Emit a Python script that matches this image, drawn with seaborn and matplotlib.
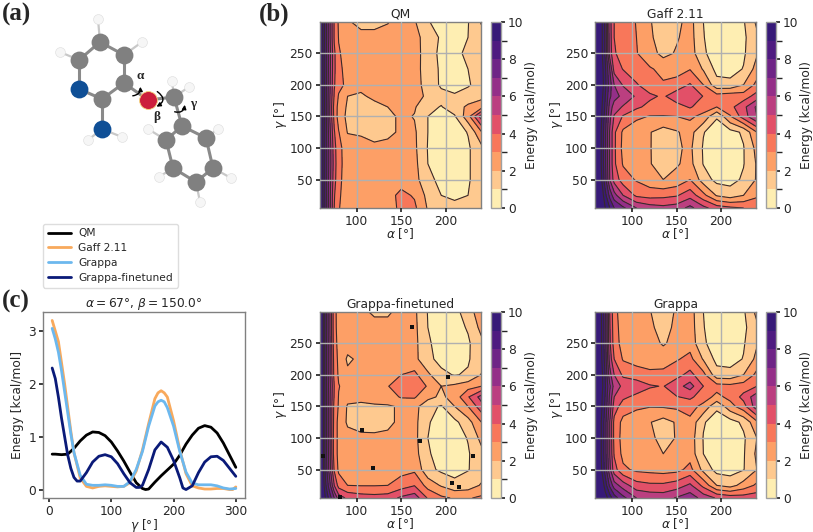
import numpy as np
import seaborn as sns
from matplotlib import pyplot as plt
from matplotlib.cm import ScalarMappable
from matplotlib.colors import BoundaryNorm, ListedColormap
from matplotlib.patches import FancyArrowPatch

W, H = 813, 532

# energy surfaces, rows follow gamma_nodes, columns follow alpha_nodes
alpha_nodes = [58, 65, 70, 75, 80, 90, 105, 120, 135, 150, 165, 180, 195, 210, 225, 240]
gamma_nodes = [5, 25, 50, 75, 100, 125, 150, 165, 182, 200, 225, 250, 275, 300]

qm_grid = [
    [12, 8.8, 6.3, 4.0, 3.05, 2.6, 2.5, 2.5, 2.7, 3.15, 3.2, 1.9, 1.3, 1.15, 1.4, 1.7],
    [12, 8.7, 6.3, 4.1, 3.1, 2.65, 2.5, 2.5, 2.65, 3.25, 2.9, 1.7, 1.0, 0.9, 1.0, 1.6],
    [12, 8.7, 6.4, 4.4, 3.2, 2.6, 2.45, 2.45, 2.5, 2.6, 2.4, 1.2, 0.8, 0.7, 0.9, 1.5],
    [12, 8.7, 6.5, 4.5, 3.25, 2.6, 2.45, 2.4, 2.4, 2.4, 2.3, 1.0, 0.7, 0.65, 0.9, 1.5],
    [12, 8.7, 6.5, 4.4, 3.25, 2.55, 2.3, 2.15, 2.2, 2.35, 2.2, 0.95, 0.6, 0.6, 0.85, 1.75],
    [12, 8.7, 6.3, 4.1, 3.05, 1.95, 1.9, 1.75, 1.85, 2.1, 2.15, 1.0, 0.6, 0.55, 1.05, 2.9],
    [12, 8.6, 6.0, 3.7, 2.6, 1.75, 1.65, 1.6, 1.7, 2.2, 1.95, 1.0, 0.7, 0.9, 2.6, 5.5],
    [12, 8.6, 6.0, 3.6, 2.7, 1.85, 1.7, 1.8, 2.0, 2.3, 2.1, 1.25, 0.95, 1.5, 2.2, 2.6],
    [12, 8.6, 6.1, 3.9, 2.9, 2.0, 1.9, 2.15, 2.4, 2.5, 2.3, 1.85, 1.3, 1.1, 1.4, 1.7],
    [12, 8.6, 6.2, 4.1, 3.3, 2.75, 2.2, 2.4, 2.5, 2.55, 2.4, 1.6, 0.85, 0.7, 0.9, 1.4],
    [12, 8.7, 6.3, 4.2, 3.2, 2.7, 2.55, 2.5, 2.5, 2.5, 2.4, 1.5, 0.85, 0.7, 1.0, 1.5],
    [12, 8.7, 6.4, 4.2, 3.1, 2.6, 2.5, 2.45, 2.45, 2.5, 2.5, 1.4, 0.8, 0.75, 1.2, 1.45],
    [12, 8.6, 6.2, 3.9, 2.95, 2.3, 2.15, 2.15, 2.3, 2.6, 2.45, 1.4, 0.9, 0.75, 1.0, 1.6],
    [12, 8.6, 6.2, 3.9, 2.85, 2.05, 1.85, 1.85, 1.95, 2.3, 2.1, 1.05, 0.7, 0.6, 0.95, 2.1],
]

gaff_grid = [
    [15, 11.5, 10, 9, 8, 7.2, 6, 5.5, 5.3, 5.5, 6.3, 5.3, 4.5, 4.2, 4.0, 3.9],
    [15, 11, 9.3, 7.7, 6.4, 5, 3.8, 3.6, 3.7, 3.9, 4.6, 3.3, 1.9, 1.5, 2, 2.8],
    [15, 10.4, 8.4, 6, 4.6, 3.5, 2.9, 2.4, 2.0, 2.3, 3.0, 1.5, 0.7, 0.65, 1.15, 2.1],
    [15, 10.2, 8.2, 5.9, 4.2, 2.9, 2.5, 2.05, 1.6, 1.9, 2.3, 0.95, 0.45, 0.45, 0.95, 2.1],
    [15, 10.2, 8.2, 5.9, 4.2, 2.7, 2.4, 2.05, 1.5, 1.85, 2.2, 0.9, 0.4, 0.4, 0.95, 2.3],
    [15, 10.2, 8.2, 5.9, 4.2, 2.8, 2.4, 2.05, 1.55, 1.9, 2.4, 1.05, 0.5, 0.65, 1.15, 3],
    [15, 10.4, 8.5, 6.3, 4.9, 3.9, 3.2, 2.95, 2.95, 3.0, 3.2, 2.7, 1.1, 2.9, 4.5, 6],
    [15, 10.5, 8.8, 6.6, 5.5, 4.9, 4.2, 3.7, 3.5, 3.6, 4.1, 3.5, 3.0, 3.7, 4.7, 6.2],
    [15, 10.7, 9, 7.2, 6.4, 5.7, 4.85, 4.2, 3.85, 4.6, 4.9, 3.95, 3.4, 3.6, 3.5, 4.4],
    [15, 11, 9.3, 7.5, 6, 4.9, 4.1, 3.4, 3.1, 3.4, 4.1, 3.0, 1.35, 1.3, 2.0, 3.3],
    [15, 10.8, 9.2, 7, 4.6, 3.95, 3.4, 3.1, 2.75, 2.6, 2.95, 1.9, 0.7, 0.6, 1.05, 2.4],
    [15, 10.6, 8.8, 5.6, 4.1, 3.6, 3.05, 2.4, 1.7, 2.1, 2.5, 1.15, 0.5, 0.45, 0.85, 1.9],
    [15, 10.6, 8.8, 5.5, 4.0, 3.6, 3.0, 2.2, 1.4, 1.9, 2.4, 1.05, 0.4, 0.35, 0.8, 1.8],
    [15, 10.6, 8.7, 5.4, 4.0, 3.55, 2.95, 2.1, 1.3, 1.75, 2.35, 1.0, 0.3, 0.3, 0.9, 2.2],
]

finetuned_grid = [
    [13, 10, 8.5, 7, 5.5, 4.8, 4.5, 4.4, 4.5, 5.2, 5.6, 3.9, 3.2, 2.9, 2.9, 3.2],
    [13, 9.3, 7.3, 5, 3.6, 3.0, 2.95, 2.95, 3.0, 3.5, 3.95, 2.6, 1.9, 1.35, 1.5, 2.1],
    [13, 8.8, 6.4, 3.9, 2.8, 2.45, 2.4, 2.4, 2.4, 2.65, 2.8, 1.3, 0.8, 0.6, 0.95, 1.5],
    [13, 8.7, 6.3, 3.5, 2.75, 2.4, 2.3, 2.3, 2.3, 2.35, 2.4, 1.1, 0.65, 0.55, 0.9, 1.7],
    [13, 8.7, 6.2, 3.5, 2.75, 2.35, 2.2, 2.15, 2.2, 2.3, 2.3, 1.0, 0.6, 0.6, 1.05, 2.3],
    [13, 8.7, 6.2, 3.6, 2.7, 1.85, 1.65, 1.7, 1.8, 2.2, 2.3, 1.1, 0.55, 0.75, 1.6, 3.0],
    [13, 8.7, 6.2, 3.7, 2.9, 1.9, 1.85, 1.9, 1.9, 2.1, 2.35, 1.3, 0.9, 2.0, 3.0, 4.6],
    [13, 8.7, 6.2, 3.9, 2.95, 2.3, 2.2, 2.3, 2.5, 3.1, 3.1, 2.3, 1.8, 2.4, 3.9, 5.4],
    [13, 8.7, 6.3, 4.0, 3.05, 2.6, 2.4, 2.5, 2.95, 3.6, 3.7, 2.9, 2.0, 2.2, 2.6, 3.0],
    [13, 8.6, 6.2, 3.7, 2.85, 2.2, 2.3, 2.4, 2.6, 3.0, 3.25, 2.2, 1.2, 0.95, 1.1, 2.05],
    [13, 8.6, 6.2, 3.6, 2.75, 1.85, 2.2, 2.3, 2.4, 2.45, 2.3, 1.2, 0.75, 0.65, 0.9, 1.6],
    [13, 8.6, 6.2, 3.4, 2.7, 2.4, 2.35, 2.35, 2.4, 2.45, 2.3, 1.1, 0.7, 0.6, 0.85, 1.75],
    [13, 8.6, 6.1, 3.3, 2.65, 2.4, 2.3, 2.3, 2.3, 2.4, 2.25, 1.0, 0.55, 0.6, 1.1, 2.3],
    [13, 8.6, 6.1, 3.3, 2.6, 2.35, 2.2, 1.85, 1.85, 2.3, 2.2, 0.95, 0.5, 0.65, 1.55, 2.6],
]

grappa_grid = [
    [15, 12, 10.5, 9.5, 8.5, 7.3, 6.0, 5.7, 5.6, 6.1, 6.6, 5.6, 4.9, 4.6, 4.5, 4.6],
    [15, 11.2, 9.5, 7.8, 6.5, 5.5, 4.4, 4.2, 4.2, 4.5, 5.2, 3.7, 2.0, 1.6, 2.4, 3.2],
    [15, 10.3, 8.6, 6.3, 4.4, 3.2, 2.8, 2.7, 2.6, 2.7, 3.3, 1.7, 0.65, 0.6, 0.95, 2.0],
    [15, 10.2, 8.4, 6, 3.9, 2.7, 2.5, 2.35, 2.0, 2.3, 2.6, 1.0, 0.45, 0.45, 0.9, 2.2],
    [15, 10.2, 8.4, 6, 3.7, 2.6, 2.45, 2.2, 1.7, 2.05, 2.55, 0.95, 0.4, 0.4, 0.85, 2.0],
    [15, 10.2, 8.4, 6, 3.7, 2.7, 2.5, 2.05, 1.6, 2.1, 2.75, 1.1, 0.5, 0.6, 1.2, 2.8],
    [15, 10.4, 8.8, 6.6, 4.5, 3.5, 3.15, 3.05, 3.1, 3.2, 3.4, 2.7, 1.2, 2.6, 3.6, 5.6],
    [15, 10.5, 8.9, 6.8, 5, 4.2, 3.75, 3.5, 3.4, 3.95, 4.2, 3.5, 2.7, 3.3, 4.3, 5.6],
    [15, 10.7, 9.1, 7.2, 5.6, 4.75, 4.6, 4.1, 3.95, 4.6, 5.4, 4.0, 3.4, 3.3, 3.5, 4.0],
    [15, 10.7, 8.9, 6.4, 5, 3.8, 3.5, 3.25, 3.3, 3.7, 4.3, 3.3, 1.4, 1.35, 2.0, 3.3],
    [15, 10.4, 8.6, 5.6, 4.0, 2.9, 2.6, 2.5, 2.5, 2.9, 3.3, 1.9, 0.7, 0.6, 1.05, 2.3],
    [15, 10.3, 8.4, 5.2, 3.5, 2.6, 2.45, 2.35, 1.9, 2.3, 2.6, 1.15, 0.5, 0.45, 0.9, 1.9],
    [15, 10.3, 8.4, 5.1, 3.4, 2.55, 2.4, 2.2, 1.6, 2.25, 2.5, 1.05, 0.4, 0.35, 0.75, 1.8],
    [15, 10.3, 8.3, 5.0, 3.3, 2.5, 2.35, 2.05, 1.4, 2.15, 2.45, 1.0, 0.3, 0.3, 0.85, 2.3],
]

# odd grid points that show as black dots in the finetuned surface
dots_alpha = [162.5, 203, 106, 171, 62.5, 118, 231, 207, 215, 82]
dots_gamma = [275, 197, 113, 95, 71.6, 53, 71.6, 29.5, 23, 6]

# scan at alpha=67, beta=150
qm_x = [5, 10, 20, 30, 40, 50, 60, 70, 80, 90, 100, 110, 120, 130, 140, 150, 155, 160, 170, 180,
        190, 200, 210, 220, 230, 240, 250, 260, 270, 280, 290, 300]
qm_y = [0.67, 0.67, 0.66, 0.67, 0.78, 0.92, 1.03, 1.09, 1.08, 1.02, 0.9, 0.73, 0.54, 0.33, 0.13, 0.02, 0, 0.01, 0.14, 0.26,
        0.37, 0.48, 0.65, 0.86, 1.03, 1.16, 1.21, 1.18, 1.07, 0.88, 0.65, 0.42]
gaff_x = [5, 10, 15, 20, 25, 30, 35, 40, 50, 60, 70, 80, 90, 100, 110, 120, 130, 140, 150, 160, 170, 175, 180,
          185, 190, 200, 210, 220, 230, 240, 250, 260, 270, 280, 290, 295, 300]
gaff_y = [3.2, 3.0, 2.8, 2.4, 2.0, 1.55, 1.1, 0.7, 0.22, 0.06, 0.03, 0.06, 0.07, 0.06, 0.05, 0.06, 0.13, 0.35, 0.75, 1.25, 1.72, 1.83, 1.87,
          1.83, 1.75, 1.3, 0.75, 0.3, 0.07, 0.03, 0.01, 0.01, 0.02, 0.02, 0, 0, 0.05]
grappa_x = [5, 10, 15, 20, 25, 30, 35, 40, 50, 60, 70, 80, 90, 100, 110, 120, 130, 140, 150, 160, 170, 175, 180,
            185, 190, 200, 210, 220, 230, 240, 250, 260, 270, 280, 290, 300]
grappa_y = [3.05, 2.85, 2.6, 2.25, 1.85, 1.45, 1.05, 0.7, 0.27, 0.1, 0.08, 0.08, 0.09, 0.08, 0.06, 0.06, 0.15, 0.38, 0.72, 1.2, 1.58, 1.66, 1.69,
            1.66, 1.55, 1.2, 0.72, 0.33, 0.12, 0.09, 0.09, 0.09, 0.07, 0.03, 0.01, 0.02]
finetuned_x = [5, 10, 15, 20, 25, 30, 35, 40, 45, 50, 60, 70, 80, 90, 100, 110, 120, 130, 140, 145, 150, 160, 170, 180,
               190, 200, 210, 215, 220, 230, 240, 250, 260, 270, 280, 290, 300]
finetuned_y = [2.3, 2.1, 1.75, 1.35, 1.0, 0.65, 0.4, 0.23, 0.16, 0.16, 0.32, 0.52, 0.63, 0.66, 0.62, 0.49, 0.3, 0.13, 0.04, 0.04, 0.08, 0.38, 0.75, 0.9,
               0.8, 0.55, 0.22, 0.03, 0, 0.07, 0.32, 0.52, 0.62, 0.63, 0.55, 0.4, 0.25]

# molecule sketch in panel (a), picture pixels
carbon_x = [100, 79, 124, 124, 102, 174, 182, 166, 206, 173, 213, 196]
carbon_y = [42, 60, 55, 83, 99, 97, 126, 140, 138, 168, 168, 182]
nitrogen_x = [79, 102]
nitrogen_y = [89, 129]
oxygen_x = [148]
oxygen_y = [100]
hydrogen_x = [98, 60, 142, 172, 189, 88, 122, 148, 218, 159, 231, 200]
hydrogen_y = [19, 52, 42, 81, 87, 140, 137, 129, 129, 177, 178, 202]
heavy_bonds = [(100, 42, 79, 60), (79, 60, 79, 89), (79, 89, 102, 99), (102, 99, 124, 83), (124, 83, 124, 55),
               (124, 55, 100, 42), (102, 99, 102, 129), (124, 83, 148, 100), (148, 100, 174, 97), (174, 97, 182, 126),
               (182, 126, 166, 140), (166, 140, 173, 168), (173, 168, 196, 182), (196, 182, 213, 168),
               (213, 168, 206, 138), (206, 138, 182, 126)]
hydrogen_bonds = [(100, 42, 98, 19), (79, 60, 60, 52), (124, 55, 142, 42), (174, 97, 172, 81), (174, 97, 189, 87),
                  (102, 129, 88, 140), (102, 129, 122, 137), (166, 140, 148, 129), (206, 138, 218, 129),
                  (173, 168, 159, 177), (213, 168, 231, 178), (196, 182, 200, 202)]

band_colors = ['#feeeb2', '#fec98f', '#fd9f66', '#f8775a', '#e25068',
               '#bb3f80', '#942f88', '#6e2486', '#4e1b80', '#371a78']
levels = list(range(11))


def px_axes(fig, left, top, right, bottom):
    return fig.add_axes([left / W, 1 - bottom / H, (right - left) / W, (bottom - top) / H])


def plot_surface(fig, grid, title, box, cbar_box):
    ax = px_axes(fig, *box)
    ax.contourf(alpha_nodes, gamma_nodes, grid, levels=levels, cmap=cmap, norm=norm, extend='max', zorder=1)
    ax.contour(alpha_nodes, gamma_nodes, grid, levels=levels, colors='#3a2a2a', linewidths=0.8, zorder=2)
    ax.set_xlim(58.5, 239)
    ax.set_ylim(5, 299.5)
    ax.set_xticks([100, 150, 200])
    ax.set_yticks([50, 100, 150, 200, 250])
    ax.grid(True, color='#b0b0b0', lw=1, zorder=3)
    ax.set_axisbelow(False)
    ax.set_xlabel(r'$\alpha$ [°]', labelpad=-1)
    ax.set_ylabel(r'$\gamma$ [°]', labelpad=0)
    ax.set_title(title, pad=3)
    cax = px_axes(fig, *cbar_box)
    cbar = fig.colorbar(ScalarMappable(norm=norm, cmap=cmap), cax=cax, ticks=[0, 2, 4, 6, 8, 10], spacing='proportional')
    cbar.set_label('Energy (kcal/mol)', labelpad=1)
    cbar.outline.set_edgecolor('#a0a0a0')
    cbar.ax.minorticks_off()
    cbar.ax.tick_params(length=3, pad=2)
    return ax


sns.set_theme(style='ticks', rc={'axes.edgecolor': '#808080', 'axes.linewidth': 1.0, 'font.size': 8,
                                 'axes.titlesize': 8.8, 'axes.labelsize': 8.8, 'xtick.labelsize': 8.8,
                                 'ytick.labelsize': 8.8, 'xtick.major.size': 3, 'ytick.major.size': 3,
                                 'xtick.major.pad': 2, 'ytick.major.pad': 2, 'legend.fontsize': 7.7})
plt.rcParams['font.family'] = ['DejaVu Sans']

cmap = ListedColormap(band_colors)
cmap.set_over(band_colors[-1])
norm = BoundaryNorm(levels, cmap.N)

fig = plt.figure(figsize=(W / 100, H / 100), dpi=100)

plot_surface(fig, qm_grid, 'QM', (319.5, 22, 480.5, 208), (491, 22, 501, 208))
plot_surface(fig, gaff_grid, 'Gaff 2.11', (595, 22, 756, 208), (766, 22, 776, 208))
ax_fine = plot_surface(fig, finetuned_grid, 'Grappa-finetuned', (319.5, 312, 480.5, 498), (491, 312, 501, 498))
plot_surface(fig, grappa_grid, 'Grappa', (595, 312, 756, 498), (766, 312, 776, 498))
ax_fine.scatter(dots_alpha, dots_gamma, s=7, marker='s', color='#111111', lw=0, zorder=4, clip_on=True)

# panel c
ax = px_axes(fig, 43, 312, 245, 498)
sns.lineplot(x=qm_x, y=qm_y, color='black', lw=1.8, label='QM', ax=ax)
sns.lineplot(x=gaff_x, y=gaff_y, color='#f8a95c', lw=1.1, label='Gaff 2.11', ax=ax)
sns.lineplot(x=grappa_x, y=grappa_y, color='#6cb8ee', lw=1.1, label='Grappa', ax=ax)
sns.lineplot(x=finetuned_x, y=finetuned_y, color='#0a1a78', lw=1.1, label='Grappa-finetuned', ax=ax)
ax.set_xticks([0, 100, 200, 300])
ax.set_yticks([0, 1, 2, 3])
ax.set_xlabel(r'$\gamma$ [°]', labelpad=-1)
ax.set_ylabel('Energy [kcal/mol]', labelpad=3)
ax.set_title(r'$\alpha = 67°$, $\beta = 150.0°$', pad=3)
handles, labels = ax.get_legend_handles_labels()
ax.get_legend().remove()
for h in handles:
    h.set_linewidth(2)
fig.legend(handles, labels, loc='upper left', bbox_to_anchor=(43 / W, 1 - 223.5 / H), borderaxespad=0,
           frameon=True, edgecolor='#dddddd', framealpha=1, labelspacing=0.45, handlelength=2.2,
           handletextpad=0.65, borderpad=0.45, fancybox=True)

# panel a and panel letters, drawn in picture pixels
over = fig.add_axes([0, 0, 1, 1], zorder=-1)
over.set_xlim(0, W)
over.set_ylim(H, 0)
over.axis('off')
for x0, y0, x1, y1 in hydrogen_bonds:
    over.plot([x0, x1], [y0, y1], color='#c8c8c8', lw=1.6, zorder=1, solid_capstyle='round')
for x0, y0, x1, y1 in heavy_bonds:
    over.plot([x0, x1], [y0, y1], color='#8a8a8a', lw=2.2, zorder=1)
over.scatter(hydrogen_x, hydrogen_y, s=50, color='#f6f6f6', edgecolor='#dcdcdc', lw=0.4, zorder=2)
over.scatter(carbon_x, carbon_y, s=165, color='#808080', lw=0, zorder=3)
over.scatter(nitrogen_x, nitrogen_y, s=165, color='#0f4f96', lw=0, zorder=3)
over.scatter(oxygen_x, oxygen_y, s=165, color='#cc1f3c', edgecolor='#f5d77a', lw=0.6, zorder=3)

serif = ['Liberation Serif', 'DejaVu Serif']
for arrow_from, arrow_to, bend in [((130, 96), (140, 84), 0.6), ((155, 90), (154, 108), -0.9), ((172, 111), (185, 102), 0.7)]:
    over.add_patch(FancyArrowPatch(arrow_from, arrow_to, connectionstyle=f'arc3,rad={bend}', arrowstyle='-|>',
                                   mutation_scale=6, color='black', lw=1, zorder=5))
for letter, x, y in [('α', 140, 76), ('β', 157, 117), ('γ', 193, 104)]:
    over.text(x, y, letter, family=serif, weight='bold', fontsize=9.5, ha='center', va='center', zorder=5)
for letter, x, y in [('(a)', 16, 14), ('(b)', 274, 14), ('(c)', 16, 301)]:
    over.text(x, y, letter, family=serif, weight='bold', fontsize=18, ha='center', va='center')

fig.savefig('out.png', dpi=100)
